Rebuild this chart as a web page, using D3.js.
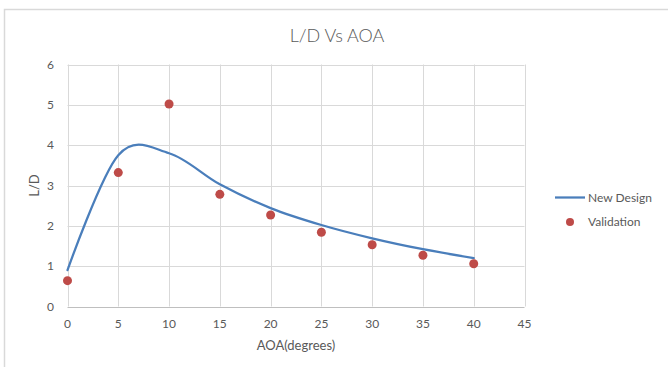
<!DOCTYPE html>
<html>
<head>
<meta charset="utf-8">
<script src="https://cdn.jsdelivr.net/npm/d3@7"></script>
<style>
  body { margin: 0; background: #fff; }
  text { font-family: Lato, "Open Sans", sans-serif; fill: #595959; }
</style>
</head>
<body>
<svg width="668" height="367"></svg>
<script>
// chart values
var aoa = [0, 5, 10, 15, 20, 25, 30, 35, 40];
var newDesign = [0.9, 3.75, 3.8, 3.03, 2.44, 2.02, 1.69, 1.42, 1.2];
var validation = [0.64, 3.32, 5.02, 2.78, 2.27, 1.84, 1.53, 1.27, 1.06];
var xTicks = [0, 5, 10, 15, 20, 25, 30, 35, 40, 45];
var yTicks = [0, 1, 2, 3, 4, 5, 6];

var svg = d3.select("svg"),
  plotLeft = 67.5, plotRight = 524.5, plotTop = 64.5, plotBottom = 306.5;

// chart frame (only top & left edges visible)
svg.append("path")
  .attr("d", "M4.5,367 V9.5 H668")
  .attr("fill", "none")
  .attr("stroke", "#d9d9d9")
  .attr("stroke-width", 1.5);

var x = d3.scaleLinear().domain([0, 45]).range([plotLeft, plotRight]);
var y = d3.scaleLinear().domain([0, 6]).range([plotBottom, plotTop]);

// gridlines
var g = svg.append("g");
g.selectAll(".vgrid")
  .data(xTicks)
  .enter().append("line")
  .attr("x1", function (d) { return Math.round(x(d)) + 0.5; })
  .attr("x2", function (d) { return Math.round(x(d)) + 0.5; })
  .attr("y1", plotTop).attr("y2", plotBottom)
  .attr("stroke", "#d9d9d9");
g.selectAll(".hgrid")
  .data(yTicks)
  .enter().append("line")
  .attr("x1", plotLeft).attr("x2", plotRight)
  .attr("y1", function (d) { return Math.round(y(d)) + 0.5; })
  .attr("y2", function (d) { return Math.round(y(d)) + 0.5; })
  .attr("stroke", function (d) { return d === 0 ? "#bfbfbf" : "#d9d9d9"; });

// tick labels
svg.selectAll(".xlab")
  .data(xTicks)
  .enter().append("text")
  .attr("x", function (d) { return x(d); })
  .attr("y", 328)
  .attr("text-anchor", "middle")
  .attr("font-size", 12)
  .text(function (d) { return d; });
svg.selectAll(".ylab")
  .data(yTicks)
  .enter().append("text")
  .attr("x", 54)
  .attr("y", function (d) { return y(d) + 4; })
  .attr("text-anchor", "end")
  .attr("font-size", 12)
  .text(function (d) { return d; });

// titles
svg.append("text")
  .attr("x", 337).attr("y", 42)
  .attr("text-anchor", "middle")
  .attr("font-size", 18)
  .attr("font-weight", 300)
  .text("L/D Vs AOA");
svg.append("text")
  .attr("x", 296).attr("y", 350)
  .attr("text-anchor", "middle")
  .attr("font-size", 13)
  .text("AOA(degrees)");
svg.append("text")
  .attr("transform", "translate(39," + (plotTop + plotBottom) / 2 + ") rotate(-90)")
  .attr("text-anchor", "middle")
  .attr("font-size", 13)
  .text("L/D");

// smoothed line
var line = d3.line()
  .x(function (d, i) { return x(aoa[i]); })
  .y(function (d) { return y(d); })
  .curve(d3.curveCardinal.tension(0));
svg.append("path")
  .attr("d", line(newDesign))
  .attr("fill", "none")
  .attr("stroke", "#4a7ebb")
  .attr("stroke-width", 2.25)
  .attr("stroke-linecap", "round");

// validation points
svg.selectAll(".pt")
  .data(validation)
  .enter().append("circle")
  .attr("cx", function (d, i) { return x(aoa[i]); })
  .attr("cy", function (d) { return y(d); })
  .attr("r", 4.5)
  .attr("fill", "#be4b48");

// legend
var legend = svg.append("g");
legend.append("line")
  .attr("x1", 555).attr("x2", 585)
  .attr("y1", 197.5).attr("y2", 197.5)
  .attr("stroke", "#4a7ebb")
  .attr("stroke-width", 2.25);
legend.append("text")
  .attr("x", 588).attr("y", 202)
  .attr("font-size", 12)
  .text("New Design");
legend.append("circle")
  .attr("cx", 570).attr("cy", 222)
  .attr("r", 4)
  .attr("fill", "#be4b48");
legend.append("text")
  .attr("x", 588).attr("y", 226)
  .attr("font-size", 12)
  .text("Validation");
</script>
</body>
</html>
